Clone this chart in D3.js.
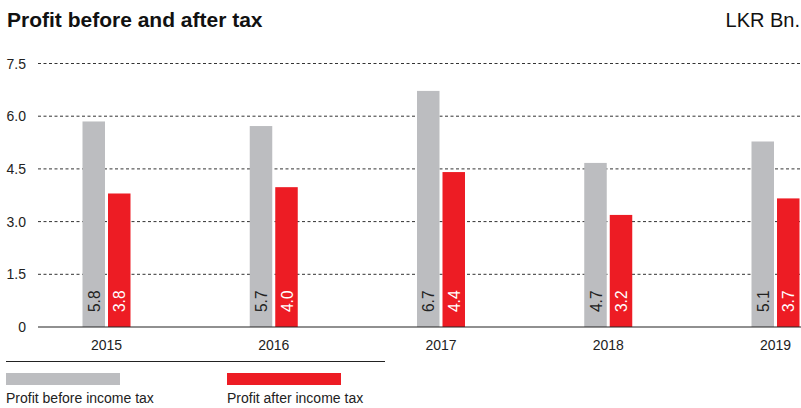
<!DOCTYPE html>
<html>
<head>
<meta charset="utf-8">
<script src="https://cdn.jsdelivr.net/npm/d3@7"></script>
<style>
  body { margin: 0; background: #fff; }
  text { font-family: "Liberation Sans", Arial, sans-serif; }
</style>
</head>
<body>
<div id="chart"></div>
<script>
// chart data
const years = ["2015", "2016", "2017", "2018", "2019"];
const profitBefore = [5.85, 5.72, 6.72, 4.67, 5.28];
const profitAfter = [3.8, 3.98, 4.41, 3.19, 3.66];
const beforeLabels = ["5.8", "5.7", "6.7", "4.7", "5.1"];
const afterLabels = ["3.8", "4.0", "4.4", "3.2", "3.7"];
const yTicks = [0, 1.5, 3.0, 4.5, 6.0, 7.5];
const seriesNames = ["Profit before income tax", "Profit after income tax"];

const grey = "#bcbdc0";
const red = "#ed1c24";

const width = 801, height = 408;

const svg = d3.select("#chart")
    .append("svg")
    .attr("width", width)
    .attr("height", height);

// scales
const x = d3.scalePoint()
    .domain(years)
    .range([106.5, 775.5]);

const y = d3.scaleLinear()
    .domain([0, 7.5])
    .range([327, 63.5]);

const barW = 22.5;
const gap = 1.5;

// title
svg.append("text")
    .attr("x", 7)
    .attr("y", 26.5)
    .attr("font-size", 21)
    .attr("font-weight", "bold")
    .attr("fill", "#111")
    .text("Profit before and after tax");

svg.append("text")
    .attr("x", 800)
    .attr("y", 26.5)
    .attr("text-anchor", "end")
    .attr("font-size", 20)
    .attr("fill", "#111")
    .text("LKR Bn.");

// gridlines
svg.append("g")
    .selectAll("line")
    .data(yTicks.filter(d => d > 0))
    .enter()
    .append("line")
    .attr("x1", 38)
    .attr("x2", 801)
    .attr("y1", d => y(d))
    .attr("y2", d => y(d))
    .attr("stroke", "#333")
    .attr("stroke-width", 1)
    .attr("stroke-dasharray", "3,2.5");

// y tick labels
svg.append("g")
    .selectAll("text")
    .data(yTicks)
    .enter()
    .append("text")
    .attr("x", 26)
    .attr("y", d => y(d) + 5)
    .attr("text-anchor", "end")
    .attr("font-size", 14)
    .attr("fill", "#222")
    .text(d => d === 0 ? "0" : d3.format(".1f")(d));

// bars
const groups = svg.append("g")
    .selectAll("g")
    .data(years)
    .enter()
    .append("g");

groups.append("rect")
    .attr("x", d => x(d) - gap - barW)
    .attr("y", (d, i) => y(profitBefore[i]))
    .attr("width", barW)
    .attr("height", (d, i) => y(0) - y(profitBefore[i]))
    .attr("fill", grey);

groups.append("rect")
    .attr("x", d => x(d) + gap)
    .attr("y", (d, i) => y(profitAfter[i]))
    .attr("width", barW)
    .attr("height", (d, i) => y(0) - y(profitAfter[i]))
    .attr("fill", red);

// rotated value labels inside bars
groups.append("text")
    .attr("transform", d => `translate(${x(d) - gap - barW / 2 + 6}, 312) rotate(-90)`)
    .attr("font-size", 16.5)
    .attr("textLength", 21.5)
    .attr("lengthAdjust", "spacingAndGlyphs")
    .attr("fill", "#222")
    .text((d, i) => beforeLabels[i]);

groups.append("text")
    .attr("transform", d => `translate(${x(d) + gap + barW / 2 + 6}, 312) rotate(-90)`)
    .attr("font-size", 16.5)
    .attr("textLength", 21.5)
    .attr("lengthAdjust", "spacingAndGlyphs")
    .attr("fill", "#fff")
    .text((d, i) => afterLabels[i]);

// baseline
svg.append("line")
    .attr("x1", 38)
    .attr("x2", 801)
    .attr("y1", y(0))
    .attr("y2", y(0))
    .attr("stroke", "#222")
    .attr("stroke-width", 1.2);

// year labels
svg.append("g")
    .selectAll("text")
    .data(years)
    .enter()
    .append("text")
    .attr("x", d => x(d))
    .attr("y", 350)
    .attr("text-anchor", "middle")
    .attr("font-size", 14)
    .attr("fill", "#222")
    .text(d => d);

// divider above legend
svg.append("line")
    .attr("x1", 6)
    .attr("x2", 385)
    .attr("y1", 361.5)
    .attr("y2", 361.5)
    .attr("stroke", "#222")
    .attr("stroke-width", 1);

// legend
const legend = svg.append("g")
    .selectAll("g")
    .data(seriesNames)
    .enter()
    .append("g")
    .attr("transform", (d, i) => `translate(${6 + i * 221}, 0)`);

legend.append("rect")
    .attr("y", 373)
    .attr("width", 114)
    .attr("height", 12)
    .attr("fill", (d, i) => i === 0 ? grey : red);

legend.append("text")
    .attr("y", 402.5)
    .attr("font-size", 14)
    .attr("fill", "#222")
    .text(d => d);
</script>
</body>
</html>
